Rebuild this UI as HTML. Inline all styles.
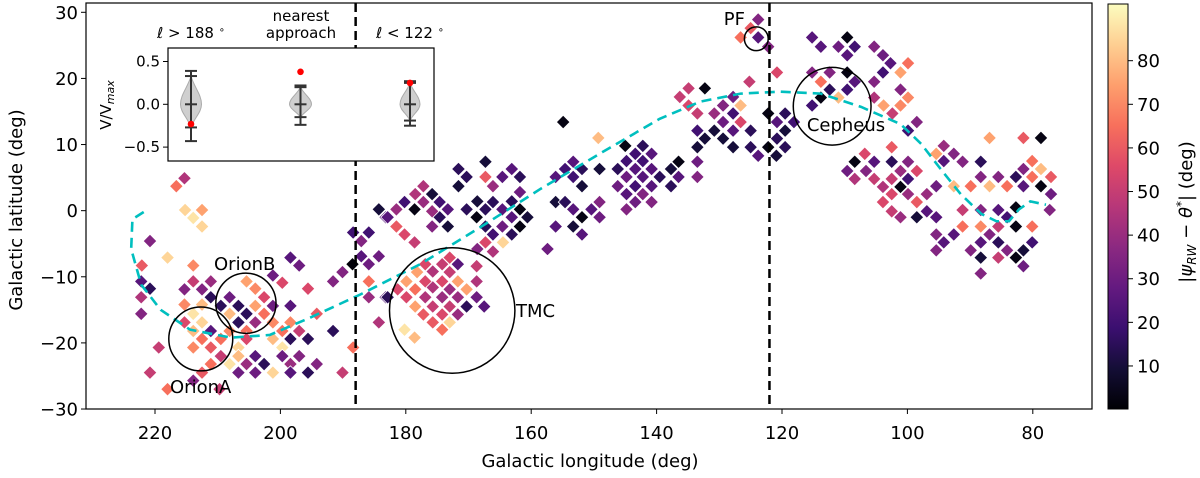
<!DOCTYPE html>
<html><head><meta charset="utf-8"><style>
html,body{margin:0;padding:0;background:#fff;}
svg text{font-family:"DejaVu Sans","Liberation Sans",sans-serif;fill:#000;}
</style></head><body>
<svg id="chart" width="1200" height="473" viewBox="0 0 1200 473" xmlns="http://www.w3.org/2000/svg">
<defs>
<linearGradient id="magma" x1="0" y1="1" x2="0" y2="0">
<stop offset="0" stop-color="#000004"/><stop offset="0.1" stop-color="#140e36"/><stop offset="0.2" stop-color="#3b0f70"/><stop offset="0.3" stop-color="#641a80"/><stop offset="0.4" stop-color="#8c2981"/><stop offset="0.5" stop-color="#b73779"/><stop offset="0.6" stop-color="#de4968"/><stop offset="0.7" stop-color="#f7705c"/><stop offset="0.8" stop-color="#fe9f6d"/><stop offset="0.9" stop-color="#fecf92"/><stop offset="1" stop-color="#fcfdbf"/>
</linearGradient>
<clipPath id="plotclip"><rect x="86" y="3" width="1006" height="406"/></clipPath>
</defs>
<g id="marks" clip-path="url(#plotclip)"></g>
<g id="overlay"></g>
<g id="axes"></g>
</svg>
<script>
const L = [215.3,216.6,215.2,212.5,213.9,212.5,220.8,218.0,222.1,213.9,222.2,220.8,222.2,222.2,215.3,213.9,212.5,211.1,211.1,215.3,213.9,212.5,212.5,215.3,211.1,213.9,212.5,213.9,209.5,208.1,206.7,205.4,206.7,208.1,205.4,204.0,202.6,204.0,202.6,204.0,205.4,201.2,201.2,199.7,198.4,197.0,201.2,199.7,198.4,197.0,198.4,201.2,199.7,198.4,195.6,194.2,195.6,191.6,208.1,209.5,211.1,209.5,206.7,205.4,206.7,208.1,211.1,212.5,213.9,206.7,205.4,204.0,202.6,204.0,201.2,199.7,198.4,197.0,198.4,195.6,194.2,219.4,220.8,218.0,209.7,190.1,188.4,185.9,191.6,190.1,188.5,188.4,187.1,185.9,187.1,185.9,184.3,184.3,183.2,185.9,184.3,183.2,
154.9,149.3,145.0,142.2,143.4,140.8,146.2,144.8,142.2,144.8,143.4,142.2,140.8,139.5,146.2,144.8,143.4,142.2,140.8,140.8,144.8,143.4,137.7,136.5,136.5,153.3,151.9,156.1,154.6,153.3,151.9,149.1,156.1,154.6,153.3,151.9,150.4,149.1,149.1,156.1,153.3,151.9,157.4,161.8,160.6,163.1,164.6,166.1,167.3,168.6,170.3,168.7,167.3,166.1,164.6,163.1,161.8,163.1,161.8,167.3,171.6,170.3,171.6,167.3,166.1,164.6,163.1,161.8,177.2,178.5,175.8,174.6,173.3,174.6,173.3,175.8,177.2,175.8,180.2,178.6,181.5,182.9,181.5,180.2,178.6,167.3,166.1,164.5,168.6,
173.0,171.7,174.2,175.7,176.9,178.2,168.7,173.0,171.7,174.2,175.7,176.9,179.9,178.5,181.3,173.0,170.3,168.7,171.7,174.2,176.9,179.9,178.5,175.7,173.0,170.3,168.7,167.5,177.2,174.2,171.7,175.7,173.0,174.2,180.2,178.6,182.9,
123.8,125.0,126.6,123.8,122.2,120.8,125.2,134.9,136.3,132.3,134.9,133.5,130.8,129.4,127.8,126.6,129.4,127.8,126.6,133.5,132.3,130.8,129.4,127.8,127.8,133.5,125.0,125.0,123.8,122.2,122.2,120.9,120.8,119.5,119.5,120.8,119.5,118.1,133.5,133.5,137.7,
115.2,113.8,111.0,109.6,108.4,109.6,105.3,103.9,102.7,103.9,105.3,99.9,101.1,101.1,99.9,101.1,103.8,102.4,98.5,105.3,115.2,113.8,112.4,109.6,108.4,112.4,113.8,115.2,111.0,109.6,99.9,
86.9,81.5,78.7,102.5,106.8,108.4,109.6,108.4,105.3,106.6,105.3,103.9,102.5,102.5,101.1,101.1,99.9,99.9,98.5,99.9,102.5,103.9,102.5,101.1,98.5,96.9,96.9,98.5,95.4,95.4,94.2,92.6,95.4,94.2,91.2,88.3,92.6,89.9,88.3,86.9,85.5,84.1,82.7,81.5,81.5,80.1,78.7,77.1,80.1,78.7,77.1,77.3,91.2,88.3,85.5,82.7,84.1,82.7,91.2,88.3,86.9,85.5,80.1,95.4,94.2,92.6,95.4,89.9,88.3,85.5,84.1,81.5,80.1,88.3,85.5,82.7,81.5,88.3];
const B = [4.9,3.7,0.1,0.1,-1.1,-2.4,-4.6,-7.1,-8.3,-8.3,-10.7,-11.8,-13.1,-15.6,-11.9,-10.7,-11.9,-10.7,-13.1,-14.2,-15.6,-14.2,-16.9,-16.9,-18.2,-18.2,-19.4,-20.7,-14.4,-13.1,-14.4,-15.6,-16.9,-15.6,-10.7,-11.8,-13.1,-14.4,-15.6,-16.9,-18.2,-14.4,-9.8,-10.9,-7.1,-8.3,-16.9,-18.2,-16.9,-18.2,-19.4,-19.4,-20.7,-14.4,-11.8,-15.6,-19.4,-18.2,-18.2,-19.4,-20.7,-22.0,-20.7,-19.4,-22.0,-23.2,-23.2,-24.5,-25.7,-24.5,-23.2,-22.0,-23.2,-24.5,-24.5,-22.0,-23.2,-22.0,-24.5,-24.5,-23.2,-20.7,-24.5,-27.0,-27.0,-24.5,-20.7,-10.7,-10.7,-9.3,-8.1,-3.3,-4.6,-3.3,-6.9,-8.1,-6.9,0.2,-1.0,-13.1,-16.9,-13.1,
13.4,11.0,9.8,9.8,8.6,8.6,6.3,7.5,7.5,5.1,6.3,5.1,6.3,5.1,3.7,2.5,3.7,2.5,3.7,1.3,0.2,1.3,3.7,7.4,5.1,7.4,6.3,5.1,6.3,5.1,3.7,6.3,1.3,1.3,0.2,-1.0,0.2,1.3,-1.0,-2.4,-2.4,-3.6,-5.8,0.2,-1.0,1.4,0.2,1.3,0.2,1.4,0.2,-1.0,-2.4,-3.6,-2.4,-1.0,-2.4,-3.6,2.8,7.4,6.3,5.1,3.7,5.1,3.7,5.1,6.3,5.1,3.7,2.5,2.5,1.3,0.2,-1.0,-2.4,-2.4,1.3,-0.1,1.3,0.2,0.2,-1.0,-2.4,-3.6,-4.8,-4.8,-6.2,-4.8,-5.8,
-7.1,-8.1,-8.1,-9.2,-8.1,-9.3,-8.4,-9.3,-10.7,-10.7,-11.6,-10.7,-10.7,-11.9,-11.9,-11.9,-11.9,-10.7,-13.1,-13.1,-13.1,-13.1,-14.5,-14.5,-14.5,-14.5,-13.1,-14.5,-15.7,-15.7,-15.7,-16.9,-16.9,-18.0,-18.0,-19.2,-13.1,
28.9,27.6,26.2,26.2,24.8,20.9,19.5,18.5,17.2,18.5,15.9,14.7,14.7,15.9,17.2,15.9,13.4,14.7,13.4,12.1,10.9,12.1,10.9,12.1,9.6,9.6,12.1,9.6,8.3,14.7,9.6,8.3,13.4,14.7,12.1,10.9,9.6,13.4,7.4,5.1,6.3,
26.2,24.8,24.8,26.2,24.8,23.5,24.8,23.5,22.3,20.9,19.5,22.3,20.9,18.3,17.1,15.9,15.9,14.7,13.4,17.1,20.9,19.5,20.9,20.9,19.5,18.3,17.1,15.9,17.1,18.3,12.1,
11.0,11.0,11.0,9.6,8.6,7.4,6.0,4.8,7.4,6.0,4.8,3.6,7.4,4.8,6.0,3.6,7.4,4.8,6.0,2.5,2.5,1.3,-0.1,-1.0,1.3,2.5,-0.1,-1.0,-1.0,3.7,9.8,8.6,8.6,7.5,7.4,7.4,3.7,3.7,5.1,3.7,5.1,3.7,5.1,3.7,6.3,7.5,6.3,5.1,5.1,3.7,2.5,0.1,0.1,0.1,0.1,0.5,-1.0,-2.4,-2.4,-2.4,-3.6,-2.4,-2.4,-3.6,-4.8,-3.6,-6.0,-6.0,-4.8,-4.8,-6.0,-6.0,-4.8,-7.1,-7.1,-7.1,-8.4,-9.5];
const V = [45,65,85,75,88,85,35,85,60,70,25,15,45,35,35,50,35,40,15,70,88,80,85,55,25,80,65,70,15,30,15,15,15,80,75,70,55,75,65,40,65,30,30,55,25,30,70,65,70,50,15,80,88,25,55,60,15,15,70,65,60,50,85,55,80,88,65,60,35,30,40,25,15,30,85,30,40,35,25,15,35,50,50,65,50,50,65,65,35,35,1,20,35,20,25,30,30,10,25,40,45,25,
3,80,3,15,20,25,15,20,20,30,25,25,25,15,30,25,20,35,25,35,35,30,15,3,25,25,15,25,20,20,10,10,10,15,25,3,25,35,30,25,10,25,30,3,10,15,25,15,15,10,15,3,15,20,30,25,3,15,30,10,15,15,10,60,40,25,25,15,45,45,10,20,25,15,10,35,40,40,20,3,40,25,60,55,50,55,45,85,35,
55,25,50,45,55,75,50,50,75,55,45,55,75,65,55,40,75,45,40,40,45,55,75,50,50,15,30,25,60,55,40,60,85,65,88,80,15,
35,60,65,25,35,55,50,50,50,3,55,50,40,35,30,80,30,20,55,20,10,10,10,25,10,10,15,15,25,3,3,10,25,15,10,15,15,20,30,35,10,
25,25,30,3,20,25,35,30,25,20,35,65,75,35,70,70,75,50,35,45,35,65,35,3,25,15,3,20,80,20,20,
75,60,3,60,55,3,30,45,25,35,50,45,15,50,40,3,35,20,55,40,55,55,50,40,60,40,25,10,25,30,40,35,75,25,35,15,80,65,35,80,35,65,15,25,35,65,80,60,65,3,30,35,50,35,25,3,20,3,65,70,35,50,65,35,25,25,35,35,25,15,35,10,20,10,50,3,30,35];
const curveL = [221.8,223.6,223.8,222.2,219.1,214.4,207.9,201.7,195.3,187.3,177.7,168.1,158.5,149.1,139.5,133.0,126.6,120.3,113.8,107.4,101.1,97.8,94.7,91.5,88.2,85.8,83.8,82.2,80.4,77.9];
const curveB = [-0.2,-1.3,-5.8,-11.2,-15.0,-18.0,-19.2,-18.8,-16.2,-12.7,-8.1,-2.5,3.3,8.6,13.9,16.5,17.7,18.0,17.7,15.7,13.1,10.1,6.3,2.5,-0.5,-1.6,-1.6,0.2,1.4,0.9];
const regionNames = ["OrionA","OrionB","TMC","PF","Cepheus"];
const regionL = [212.7,205.5,172.6,124.1,112.0];
const regionB = [-19.4,-14.0,-15.1,26.0,15.8];
const regionR = [5.1,4.8,10.0,1.9,6.2];
const cutL = [188,122];
const xTicks = [220,200,180,160,140,120,100,80];
const yTicks = [-30,-20,-10,0,10,20,30];
const cbTicks = [10,20,30,40,50,60,70,80];
const insetCats = ["ℓ > 188 °","nearest approach","ℓ < 122 °"];
const insetMed = [0,0,0];
const insetMin = [-0.43,-0.24,-0.25];
const insetMin2 = [-0.27,-0.15,-0.19];
const insetMax = [0.39,0.22,0.27];
const insetMax2 = [0.33,0.20,0.25];
const insetRed = [-0.23,0.38,0.25];
const insetTicks = [-0.5,0,0.5];

const NS="http://www.w3.org/2000/svg";
const X = l => 155 + (220 - l) * 6.27;
const Y = b => 12.3 + (30 - b) * 6.612;
const CB0 = 0.13, CB1 = 93;
const CY = v => 409 - (v - CB0) / (CB1 - CB0) * 405;
const IX = i => 191 + i * 109.5;
const IY = v => 104.3 - v * 85.6;
const stops=[[0,[0,0,4]],[0.1,[20,14,54]],[0.2,[59,15,112]],[0.3,[100,26,128]],[0.4,[140,41,129]],[0.5,[183,55,121]],[0.6,[222,73,104]],[0.7,[247,112,92]],[0.8,[254,159,109]],[0.9,[254,207,146]],[1,[252,253,191]]];
function magma(v){let t=Math.max(0,Math.min(1,(v-CB0)/(CB1-CB0)));for(let i=1;i<stops.length;i++){if(t<=stops[i][0]){const a=stops[i-1],b=stops[i];const f=(t-a[0])/(b[0]-a[0]);const c=a[1].map((x,k)=>Math.round(x+(b[1][k]-x)*f));return `rgb(${c[0]},${c[1]},${c[2]})`;}}return "rgb(252,253,191)";}
function mk(tag,attrs,parent){const e=document.createElementNS(NS,tag);for(const k in attrs)e.setAttribute(k,attrs[k]);parent.appendChild(e);return e;}
const marks=document.getElementById('marks'), ov=document.getElementById('overlay'), ax=document.getElementById('axes');

for(let i=0;i<L.length;i++){
  const x=X(L[i]), y=Y(B[i]), r=6.8;
  const d=mk('polygon',{points:`${x},${y-r} ${x+r},${y} ${x},${y+r} ${x-r},${y}`,fill:magma(V[i]),stroke:'#fff','stroke-width':0.8},marks);
  
  
}
const cp=mk('polyline',{points:curveL.map((l,i)=>`${X(l)},${Y(curveB[i])}`).join(' '),fill:'none',stroke:'#00bfbf','stroke-width':2.6,'stroke-dasharray':'10 6'},marks);


for(let i=0;i<regionNames.length;i++){
  const cx=X(regionL[i]),cy=Y(regionB[i]),r=regionR[i]*6.27;
  const c=mk('circle',{cx:cx,cy:cy,r:r,fill:'none',stroke:'#000','stroke-width':1.5},marks);
  
  
}
const lblXY=[[170,393,'start'],[214,270,'start'],[516,317,'start'],[745,25,'end'],[846,131,'middle']];
for(let i=0;i<regionNames.length;i++){
  const t=mk('text',{x:lblXY[i][0],y:lblXY[i][1],'font-size':18,'text-anchor':lblXY[i][2]},marks);
  t.textContent=regionNames[i];
  
  
}
for(const c of cutL){
  const ln=mk('line',{x1:X(c),x2:X(c),y1:3,y2:409,stroke:'#000','stroke-width':2.5,'stroke-dasharray':'9 5'},marks);
  
  
}
const fr=mk('rect',{x:86,y:3,width:1006,height:406,fill:'none',stroke:'#000','stroke-width':1.2},ax);


for(const t of xTicks){
  const x=X(t);
  mk('line',{x1:x,x2:x,y1:409,y2:414,stroke:'#000','stroke-width':1},ax);
  const tx=mk('text',{x:x,y:439,'font-size':18,'text-anchor':'middle'},ax);
  tx.textContent=t;
  
  
}
for(const t of yTicks){
  const y=Y(t);
  mk('line',{x1:81,x2:86,y1:y,y2:y,stroke:'#000','stroke-width':1},ax);
  const tx=mk('text',{x:78,y:y+6.5,'font-size':18,'text-anchor':'end'},ax);
  tx.textContent=t<0?'\u2212'+(-t):t;
  
  
}
const xt=mk('text',{x:590,y:467,'font-size':18,'text-anchor':'middle'},ax);
xt.textContent='Galactic longitude (deg)';


const yt=mk('text',{x:0,y:0,'font-size':18,'text-anchor':'middle',transform:'translate(22,210) rotate(-90)'},ax);
yt.textContent='Galactic latitude (deg)';


const cb=mk('rect',{x:1108,y:4,width:20,height:405,fill:'url(#magma)',stroke:'#000','stroke-width':1},ax);


for(const t of cbTicks){
  const y=CY(t);
  mk('line',{x1:1128,x2:1133,y1:y,y2:y,stroke:'#000','stroke-width':1},ax);
  const tx=mk('text',{x:1137,y:y+6.5,'font-size':18},ax);
  tx.textContent=t;
  
  
}
const ct=mk('text',{x:0,y:0,'font-size':18,'text-anchor':'middle',transform:'translate(1192,212) rotate(-90)'},ax);
ct.innerHTML='|<tspan font-style="italic">ψ</tspan><tspan font-size="12" dy="4" font-style="italic">RW</tspan><tspan dy="-4"> − </tspan><tspan font-style="italic">θ</tspan><tspan font-size="12" dy="-7">*</tspan><tspan dy="7">| (deg)</tspan>';


const ig=mk('g',{},ax);


mk('rect',{x:168,y:48,width:266,height:113,fill:'#fff',stroke:'#000','stroke-width':1.2},ig);
for(const t of insetTicks){
  const y=IY(t);
  mk('line',{x1:163,x2:168,y1:y,y2:y,stroke:'#000','stroke-width':1},ig);
  const tx=mk('text',{x:160,y:y+5,'font-size':15,'text-anchor':'end'},ig);
  tx.textContent=t<0?'\u2212'+(-t).toFixed(1):t.toFixed(1);
  
  
}
const iyl=mk('text',{x:0,y:0,'font-size':15,'text-anchor':'middle',transform:'translate(111,105) rotate(-90)'},ig);
iyl.innerHTML='V/V<tspan font-size="11" dy="3" font-style="italic">max</tspan>';


for(let i=0;i<insetCats.length;i++){
  const x=IX(i);
  const lo=IY(insetMin2[i]),hi=IY(insetMax2[i]),mid=IY(insetMed[i]);
  const w=[10.5,11,10][i];
  const vp=mk('path',{d:`M${x},${hi} C${x+w*0.3},${hi+ (mid-hi)*0.4} ${x+w},${mid-(mid-hi)*0.35} ${x+w},${mid} C${x+w},${mid+(lo-mid)*0.35} ${x+w*0.3},${lo-(lo-mid)*0.4} ${x},${lo} C${x-w*0.3},${lo-(lo-mid)*0.4} ${x-w},${mid+(lo-mid)*0.35} ${x-w},${mid} C${x-w},${mid-(mid-hi)*0.35} ${x-w*0.3},${hi+(mid-hi)*0.4} ${x},${hi}Z`,fill:'#cfcfcf',stroke:'#aaa','stroke-width':1},ig);
  
  
  mk('line',{x1:x,x2:x,y1:IY(insetMax[i]),y2:IY(insetMin[i]),stroke:'#333','stroke-width':2},ig);
  for(const v of [insetMax[i],insetMax2[i],insetMin[i],insetMin2[i],insetMed[i]]){
    mk('line',{x1:x-6,x2:x+6,y1:IY(v),y2:IY(v),stroke:'#333','stroke-width':2},ig);
  }
  const rd=mk('circle',{cx:x,cy:IY(insetRed[i]),r:3.3,fill:'#ff0000'},ig);
  
  
}
const t1=mk('text',{x:191,y:38,'font-size':15,'text-anchor':'middle'},ig);
t1.innerHTML='<tspan font-style="italic">ℓ</tspan> &gt; 188 <tspan font-size="10" dy="-5">∘</tspan>';


const t2=mk('text',{x:301,y:21,'font-size':15,'text-anchor':'middle'},ig);
t2.innerHTML='nearest<tspan x="301" dy="17">approach</tspan>';


const t3=mk('text',{x:410,y:38,'font-size':15,'text-anchor':'middle'},ig);
t3.innerHTML='<tspan font-style="italic">ℓ</tspan> &lt; 122 <tspan font-size="10" dy="-5">∘</tspan>';


</script>
</body></html>
